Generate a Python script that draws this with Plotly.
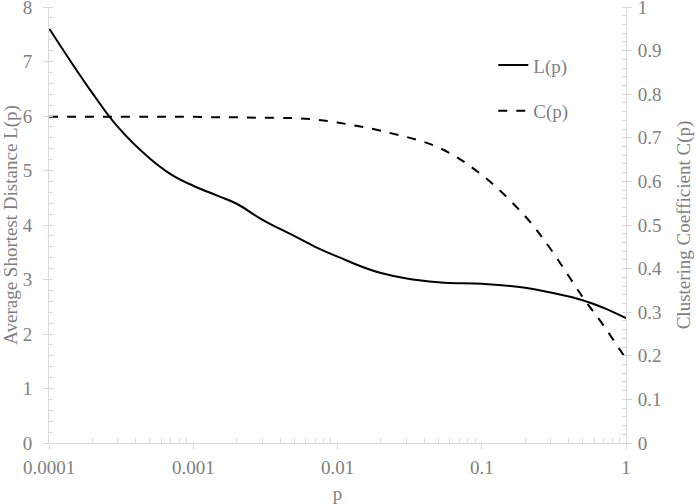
import plotly.graph_objects as go

# values
p_values = [0.0001, 0.00015, 0.0002, 0.0003, 0.0005, 0.0007, 0.001, 0.0015, 0.002,
            0.003, 0.005, 0.007, 0.01, 0.02, 0.05, 0.1, 0.2, 0.3, 0.5, 0.7, 1]
L_values = [7.61, 6.9, 6.42, 5.8, 5.22, 4.93, 4.72, 4.53, 4.39,
            4.1, 3.8, 3.6, 3.42, 3.12, 2.95, 2.92, 2.85, 2.76, 2.62, 2.48, 2.29]
C_values = [0.748, 0.748, 0.748, 0.748, 0.748, 0.748, 0.748, 0.747, 0.747,
            0.746, 0.745, 0.742, 0.735, 0.716, 0.678, 0.615, 0.52, 0.445, 0.335, 0.269, 0.193]

x_tickvals = [0.0001, 0.001, 0.01, 0.1, 1]
x_ticktext = ["0.0001", "0.001", "0.01", "0.1", "1"]
x_minor = [m * d for d in [0.0001, 0.001, 0.01, 0.1] for m in range(2, 10)]

FONT = "Liberation Serif, Times New Roman, DejaVu Serif, serif"
AXIS_COLOR = "#d9d9d9"
TEXT_COLOR = "#7f7f7f"

fig = go.Figure()

fig.add_trace(go.Scatter(
    x=p_values, y=L_values, name="L(p)", mode="lines",
    line=dict(color="black", width=2, shape="spline", smoothing=1.2),
    legendgroup="L",
))
fig.add_trace(go.Scatter(
    x=p_values, y=C_values, name="C(p)", mode="lines", yaxis="y2",
    line=dict(color="black", width=2, dash="dash", shape="spline", smoothing=1.0),
    legendgroup="C",
))

axis_common = dict(
    showgrid=False, zeroline=False, showline=True, linecolor=AXIS_COLOR, linewidth=1,
    ticks="outside", ticklen=5, tickcolor=AXIS_COLOR, automargin=False,
    ticklabeloverflow="allow",
    tickfont=dict(family=FONT, size=19, color=TEXT_COLOR),
)

fig.update_layout(
    width=696, height=504,
    margin=dict(l=49, r=70, t=7, b=61),
    plot_bgcolor="white", paper_bgcolor="white",
    font=dict(family=FONT, size=19, color=TEXT_COLOR),
    xaxis=dict(
        type="log", range=[-4, 0], tickvals=x_tickvals, ticktext=x_ticktext,
        ticklabelstandoff=2,
        title=dict(text="p", font=dict(family=FONT, size=19, color=TEXT_COLOR)),
        minor=dict(tickvals=x_minor, ticks="inside", ticklen=5, tickcolor=AXIS_COLOR),
        **axis_common,
    ),
    yaxis=dict(
        range=[0, 8], dtick=1, ticklabelstandoff=7,
        title=dict(text="Average Shortest Distance L(p)",
                   font=dict(family=FONT, size=19, color=TEXT_COLOR)),
        minor=dict(dtick=0.2, ticks="inside", ticklen=4, tickcolor=AXIS_COLOR),
        **axis_common,
    ),
    yaxis2=dict(
        range=[0, 1], dtick=0.1, overlaying="y", side="right", ticklabelstandoff=2,
        title=dict(text="Clustering Coefficient C(p)",
                   font=dict(family=FONT, size=19, color=TEXT_COLOR)),
        minor=dict(dtick=0.02, ticks="inside", ticklen=4, tickcolor=AXIS_COLOR),
        **axis_common,
    ),
    legend=dict(
        x=0.77, y=0.91, xanchor="left", yanchor="top",
        font=dict(family=FONT, size=19, color=TEXT_COLOR),
        bgcolor="rgba(0,0,0,0)", itemwidth=30, tracegroupgap=18,
        traceorder="grouped",
    ),
    showlegend=True,
)

fig.write_html("out.html", config={"displayModeBar": False},
               post_script="document.body.style.margin='0';")
